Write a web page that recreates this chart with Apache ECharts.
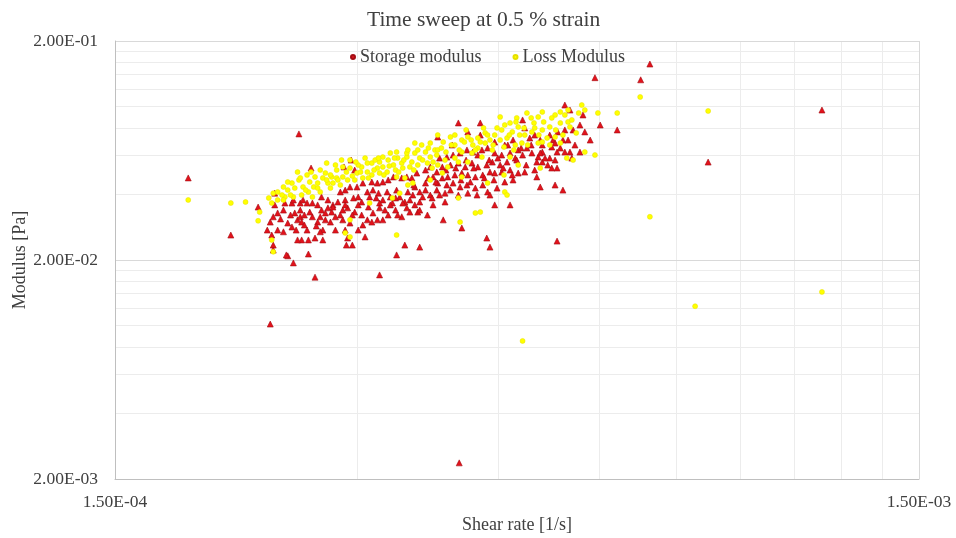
<!DOCTYPE html>
<html>
<head>
<meta charset="utf-8">
<script src="https://cdn.jsdelivr.net/npm/echarts@6/dist/echarts.min.js"></script>
<style>
  html, body { margin: 0; padding: 0; background: #ffffff; }
  #chart { width: 956px; height: 538px; }
</style>
</head>
<body>
<div id="chart"></div>
<script>
// Time sweep: storage and loss modulus against shear rate (log-log)
const chartTitle = 'Time sweep at 0.5 % strain';
const seriesNames = ['Storage modulus', 'Loss Modulus'];
const xAxisName = 'Shear rate [1/s]';
const yAxisName = 'Modulus [Pa]';

const xRange = [1.5e-4, 1.5e-3];
const yRange = [2e-3, 2e-1];
const xTickValues = [1.5e-4, 1.5e-3];
const xTickLabels = ['1.50E-04', '1.50E-03'];
const yTickValues = [2e-3, 2e-2, 2e-1];
const yTickLabels = ['2.00E-03', '2.00E-02', '2.00E-01'];
// minor gridlines: 2..9 times the first value of each decade
const minorSteps = [2, 3, 4, 5, 6, 7, 8, 9];

// [shear rate, storage modulus]
const storagePoints = [
  [2.09e-4,2.60e-2],[2.26e-4,3.49e-2],[2.37e-4,4.04e-2],[2.44e-4,3.64e-2],[2.39e-4,3.28e-2],
  [2.36e-4,3.15e-2],[2.41e-4,3.08e-2],[2.34e-4,2.98e-2],[2.32e-4,2.74e-2],[2.39e-4,2.74e-2],
  [2.43e-4,2.69e-2],[2.46e-4,2.95e-2],[2.49e-4,2.83e-2],[2.53e-4,3.05e-2],[2.55e-4,3.15e-2],
  [2.51e-4,3.28e-2],[2.56e-4,2.98e-2],[2.58e-4,2.89e-2],[2.60e-4,2.74e-2],[2.55e-4,3.64e-2],
  [2.57e-4,3.76e-2],[2.60e-4,3.64e-2],[2.63e-4,5.26e-2],[2.64e-4,3.64e-2],[2.68e-4,3.57e-2],
  [2.71e-4,3.38e-2],[2.74e-4,3.28e-2],[2.70e-4,3.15e-2],[2.74e-4,3.05e-2],[2.76e-4,3.46e-2],
  [2.79e-4,3.31e-2],[2.72e-4,2.74e-2],[2.70e-4,2.69e-2],[2.66e-4,2.52e-2],[2.61e-4,2.47e-2],
  [2.56e-4,2.47e-2],[2.53e-4,2.47e-2],[2.36e-4,2.34e-2],[2.36e-4,2.22e-2],[2.46e-4,2.09e-2],
  [2.50e-4,1.94e-2],[2.61e-4,2.13e-2],[2.66e-4,1.67e-2],[2.64e-4,3.15e-2],[2.68e-4,2.98e-2],
  [2.58e-4,3.21e-2],[2.76e-4,3.76e-2],[2.80e-4,3.57e-2],[2.49e-4,3.64e-2],[2.50e-4,3.76e-2],
  [2.71e-4,3.88e-2],[2.54e-4,7.53e-2],[1.85e-4,4.74e-2],[2.35e-4,2.60e-2],[2.45e-4,2.11e-2],
  [2.34e-4,1.02e-2],
  [2.95e-4,5.72e-2],[2.89e-4,5.32e-2],[2.98e-4,5.15e-2],[2.80e-4,3.49e-2],[2.86e-4,4.09e-2],
  [2.90e-4,4.17e-2],[2.94e-4,4.31e-2],[2.84e-4,3.68e-2],[2.90e-4,3.76e-2],[2.97e-4,3.84e-2],
  [3.01e-4,3.88e-2],[3.04e-4,3.68e-2],[3.09e-4,4.09e-2],[3.11e-4,3.88e-2],[3.14e-4,4.17e-2],
  [3.19e-4,4.04e-2],[3.23e-4,3.76e-2],[3.20e-4,3.64e-2],[3.27e-4,4.09e-2],[3.30e-4,3.88e-2],
  [3.32e-4,3.64e-2],[3.36e-4,4.17e-2],[3.39e-4,3.88e-2],[3.44e-4,3.68e-2],[3.47e-4,4.09e-2],
  [3.54e-4,4.31e-2],[3.59e-4,4.09e-2],[3.65e-4,4.49e-2],[3.68e-4,4.74e-2],[3.73e-4,4.79e-2],
  [3.77e-4,5.04e-2],[3.70e-4,5.32e-2],[3.65e-4,5.15e-2],[3.56e-4,4.99e-2],[3.51e-4,4.74e-2],
  [3.46e-4,4.79e-2],[3.41e-4,4.74e-2],[3.33e-4,4.79e-2],[3.28e-4,4.64e-2],[3.23e-4,4.54e-2],
  [3.18e-4,4.49e-2],[3.13e-4,4.54e-2],[3.05e-4,4.49e-2],[3.00e-4,4.31e-2],[2.82e-4,3.15e-2],
  [2.88e-4,3.38e-2],[2.92e-4,3.46e-2],[2.98e-4,3.31e-2],[3.04e-4,3.21e-2],[2.88e-4,3.05e-2],
  [2.94e-4,2.95e-2],[2.90e-4,2.74e-2],[2.92e-4,2.52e-2],[2.96e-4,2.34e-2],[2.91e-4,2.34e-2],
  [3.01e-4,2.74e-2],[3.07e-4,2.55e-2],[3.09e-4,3.05e-2],[3.14e-4,3.28e-2],[3.20e-4,3.46e-2],
  [3.18e-4,3.05e-2],[3.23e-4,3.05e-2],[3.28e-4,3.21e-2],[3.35e-4,3.38e-2],[3.41e-4,3.15e-2],
  [3.46e-4,3.46e-2],[3.54e-4,3.57e-2],[3.59e-4,3.68e-2],[3.57e-4,3.31e-2],[3.67e-4,3.21e-2],
  [3.73e-4,3.57e-2],[3.70e-4,3.96e-2],[3.77e-4,4.17e-2],[3.44e-4,2.34e-2],[3.59e-4,2.29e-2],
  [3.36e-4,2.11e-2],[3.20e-4,1.71e-2],[3.35e-4,3.84e-2],[3.49e-4,3.76e-2],[3.52e-4,3.96e-2],
  [3.62e-4,3.88e-2],
  [4.01e-4,8.45e-2],[4.12e-4,7.69e-2],[4.27e-4,8.45e-2],[3.78e-4,7.29e-2],[3.94e-4,6.70e-2],
  [4.27e-4,7.44e-2],[4.45e-4,6.91e-2],[4.58e-4,6.70e-2],[4.69e-4,7.06e-2],[4.82e-4,8.72e-2],
  [4.85e-4,8.02e-2],[4.92e-4,7.21e-2],[4.99e-4,7.44e-2],[5.10e-4,6.70e-2],[4.88e-4,6.49e-2],
  [4.76e-4,6.36e-2],[4.65e-4,6.16e-2],[4.54e-4,6.03e-2],[4.45e-4,6.16e-2],[4.36e-4,6.49e-2],
  [4.29e-4,6.36e-2],[4.18e-4,6.22e-2],[4.11e-4,6.36e-2],[4.03e-4,6.16e-2],[3.95e-4,6.03e-2],
  [3.88e-4,5.90e-2],[3.80e-4,5.84e-2],[3.83e-4,5.32e-2],[3.92e-4,5.43e-2],[4.01e-4,5.54e-2],
  [4.09e-4,5.32e-2],[4.17e-4,5.54e-2],[4.24e-4,5.32e-2],[4.35e-4,5.43e-2],[4.42e-4,5.60e-2],
  [4.52e-4,5.43e-2],[4.61e-4,5.60e-2],[4.72e-4,5.84e-2],[4.82e-4,6.03e-2],[4.95e-4,6.16e-2],
  [5.04e-4,5.90e-2],[5.10e-4,5.60e-2],[5.02e-4,5.60e-2],[4.85e-4,5.04e-2],[4.76e-4,4.99e-2],
  [4.65e-4,5.15e-2],[4.54e-4,5.04e-2],[4.45e-4,4.99e-2],[4.39e-4,5.04e-2],[4.30e-4,4.89e-2],
  [4.21e-4,4.79e-2],[4.12e-4,4.89e-2],[4.05e-4,4.99e-2],[3.97e-4,4.89e-2],[3.89e-4,4.79e-2],
  [3.83e-4,4.74e-2],[3.78e-4,4.49e-2],[3.88e-4,4.40e-2],[3.95e-4,4.49e-2],[4.03e-4,4.31e-2],
  [4.11e-4,4.40e-2],[4.21e-4,4.26e-2],[4.30e-4,4.40e-2],[4.36e-4,4.09e-2],[4.48e-4,4.26e-2],
  [4.58e-4,4.54e-2],[4.69e-4,4.64e-2],[3.86e-4,4.04e-2],[4.01e-4,3.96e-2],[4.12e-4,4.04e-2],
  [4.23e-4,3.96e-2],[4.39e-4,3.96e-2],[4.45e-4,3.57e-2],[4.65e-4,3.57e-2],[3.86e-4,3.68e-2],
  [3.84e-4,3.05e-2],[4.05e-4,2.80e-2],[4.35e-4,2.52e-2],[4.39e-4,2.29e-2],[5.02e-4,4.79e-2],
  [5.07e-4,4.31e-2],
  [5.44e-4,1.02e-1],[5.52e-4,9.68e-2],[5.73e-4,9.19e-2],[6.02e-4,8.27e-2],[6.32e-4,7.85e-2],
  [5.76e-4,7.69e-2],[5.57e-4,7.85e-2],[5.44e-4,7.85e-2],[5.33e-4,7.69e-2],[5.26e-4,7.06e-2],
  [5.41e-4,7.06e-2],[5.29e-4,6.84e-2],[5.24e-4,6.56e-2],[5.10e-4,6.22e-2],[5.07e-4,6.16e-2],
  [5.32e-4,6.22e-2],[5.44e-4,6.22e-2],[5.52e-4,6.22e-2],[5.68e-4,6.22e-2],[5.21e-4,5.84e-2],
  [5.18e-4,5.43e-2],[5.24e-4,5.26e-2],[5.32e-4,5.26e-2],[5.29e-4,4.40e-2],[5.41e-4,4.17e-2],
  [5.55e-4,5.84e-2],
  [2.37e-4,3.57e-2],[2.43e-4,3.38e-2],[2.48e-4,3.21e-2],[2.52e-4,2.74e-2],[2.55e-4,3.38e-2],
  [2.62e-4,3.31e-2],[2.67e-4,2.86e-2],[2.72e-4,2.47e-2],[2.78e-4,2.98e-2],[2.82e-4,2.74e-2],
  [2.86e-4,3.21e-2],[2.90e-4,3.57e-2],[2.96e-4,3.21e-2],[3.01e-4,3.57e-2],[3.05e-4,2.89e-2],
  [3.10e-4,3.49e-2],[3.13e-4,2.98e-2],[3.17e-4,3.84e-2],[3.25e-4,3.38e-2],[3.30e-4,3.57e-2],
  [3.37e-4,3.21e-2],[3.42e-4,3.64e-2],[3.49e-4,3.31e-2],[3.53e-4,4.40e-2],[3.59e-4,3.38e-2],
  [3.65e-4,4.17e-2],[3.72e-4,3.84e-2],[3.76e-4,4.54e-2],[3.80e-4,3.96e-2],[3.87e-4,5.15e-2],
  [3.92e-4,4.17e-2],[3.98e-4,5.26e-2],[4.04e-4,4.64e-2],[4.10e-4,5.72e-2],[4.15e-4,4.54e-2],
  [4.19e-4,5.26e-2],[4.24e-4,6.03e-2],[4.32e-4,4.74e-2],[4.38e-4,5.72e-2],[4.44e-4,4.64e-2],
  [4.49e-4,5.84e-2],[4.56e-4,5.26e-2],[4.62e-4,6.70e-2],[4.68e-4,4.89e-2],[4.74e-4,5.72e-2],
  [4.80e-4,6.49e-2],[4.87e-4,5.43e-2],[4.94e-4,6.70e-2],[4.99e-4,5.15e-2],[5.07e-4,7.06e-2],
  [5.14e-4,5.84e-2],[5.21e-4,7.44e-2],[5.29e-4,5.72e-2],[5.37e-4,6.49e-2],[5.49e-4,7.06e-2],
  [5.60e-4,6.70e-2],[5.68e-4,8.27e-2],[5.85e-4,7.06e-2],
  [5.93e-4,1.36e-1],[6.76e-4,1.33e-1],[6.94e-4,1.57e-1],[8.20e-4,5.60e-2],[1.136e-3,9.68e-2],
  [5.32e-4,2.44e-2],[4.02e-4,2.37e-3]
];

// [shear rate, loss modulus]
const lossPoints = [
  [2.09e-4,3.64e-2],[2.18e-4,3.68e-2],[2.27e-4,3.31e-2],[2.26e-4,3.02e-2],[2.35e-4,2.47e-2],
  [2.36e-4,2.18e-2],[2.33e-4,3.84e-2],[2.36e-4,4.04e-2],[2.39e-4,4.09e-2],[2.43e-4,4.31e-2],
  [2.46e-4,4.17e-2],[2.44e-4,3.88e-2],[2.49e-4,4.49e-2],[2.53e-4,5.04e-2],[2.54e-4,4.64e-2],
  [2.57e-4,4.31e-2],[2.60e-4,4.89e-2],[2.62e-4,4.54e-2],[2.65e-4,4.31e-2],[2.66e-4,4.79e-2],
  [2.68e-4,4.49e-2],[2.72e-4,4.74e-2],[2.74e-4,4.99e-2],[2.75e-4,5.54e-2],[2.76e-4,4.49e-2],
  [2.79e-4,4.79e-2],[2.61e-4,4.09e-2],[2.56e-4,3.96e-2],[2.50e-4,3.88e-2],[2.39e-4,3.76e-2],
  [2.35e-4,3.64e-2],[2.64e-4,3.88e-2],[2.70e-4,4.09e-2],[1.85e-4,3.76e-2],
  [2.78e-4,4.89e-2],[2.83e-4,5.15e-2],[2.88e-4,4.79e-2],[2.94e-4,5.26e-2],[3.00e-4,4.99e-2],
  [3.04e-4,5.32e-2],[3.09e-4,5.04e-2],[3.13e-4,5.54e-2],[3.18e-4,5.26e-2],[3.20e-4,5.60e-2],
  [3.23e-4,5.32e-2],[3.28e-4,5.72e-2],[3.33e-4,5.43e-2],[3.37e-4,5.84e-2],[3.41e-4,5.54e-2],
  [3.46e-4,5.90e-2],[3.51e-4,5.60e-2],[3.54e-4,6.16e-2],[3.59e-4,5.84e-2],[3.65e-4,6.22e-2],
  [3.70e-4,5.90e-2],[3.75e-4,6.36e-2],[3.78e-4,7.44e-2],[3.70e-4,6.84e-2],[3.61e-4,6.70e-2],
  [3.54e-4,6.84e-2],[3.46e-4,6.16e-2],[3.36e-4,6.22e-2],[3.30e-4,6.16e-2],[3.23e-4,5.90e-2],
  [3.16e-4,5.72e-2],[3.09e-4,5.54e-2],[3.01e-4,5.43e-2],[2.94e-4,5.72e-2],[2.88e-4,5.32e-2],
  [2.83e-4,4.74e-2],[2.80e-4,4.49e-2],[2.86e-4,4.40e-2],[2.92e-4,4.64e-2],[2.98e-4,4.64e-2],
  [3.05e-4,4.74e-2],[3.13e-4,4.89e-2],[3.20e-4,4.99e-2],[3.27e-4,5.04e-2],[3.35e-4,5.15e-2],
  [3.42e-4,5.26e-2],[3.49e-4,5.32e-2],[3.57e-4,5.43e-2],[3.67e-4,5.54e-2],[3.73e-4,5.60e-2],
  [3.36e-4,4.79e-2],[3.44e-4,4.74e-2],[3.52e-4,4.49e-2],[3.70e-4,4.64e-2],[2.94e-4,3.05e-2],
  [2.90e-4,2.66e-2],[2.94e-4,2.55e-2],[3.36e-4,2.60e-2],[3.32e-4,3.84e-2],[3.39e-4,4.04e-2],
  [3.47e-4,4.40e-2],[3.11e-4,3.64e-2],
  [3.78e-4,6.36e-2],[3.84e-4,6.91e-2],[3.92e-4,7.29e-2],[3.97e-4,6.70e-2],[4.05e-4,7.06e-2],
  [4.12e-4,7.29e-2],[4.18e-4,6.70e-2],[4.24e-4,7.21e-2],[4.33e-4,7.61e-2],[4.39e-4,7.06e-2],
  [4.45e-4,7.44e-2],[4.54e-4,7.85e-2],[4.61e-4,7.21e-2],[4.68e-4,7.69e-2],[4.76e-4,8.10e-2],
  [4.52e-4,9.00e-2],[4.65e-4,8.45e-2],[4.74e-4,8.91e-2],[4.88e-4,9.38e-2],[4.98e-4,8.45e-2],
  [5.04e-4,9.00e-2],[5.10e-4,9.48e-2],[4.95e-4,7.69e-2],[4.85e-4,7.44e-2],[4.33e-4,6.84e-2],
  [4.24e-4,6.49e-2],[4.17e-4,6.16e-2],[4.05e-4,6.22e-2],[3.97e-4,5.84e-2],[3.86e-4,5.72e-2],
  [3.78e-4,5.43e-2],[3.89e-4,5.32e-2],[4.01e-4,5.60e-2],[4.12e-4,5.60e-2],[4.29e-4,5.90e-2],
  [4.42e-4,6.36e-2],[4.57e-4,6.56e-2],[4.72e-4,6.70e-2],[4.81e-4,6.84e-2],[5.04e-4,6.84e-2],
  [4.65e-4,5.90e-2],[4.76e-4,5.43e-2],[4.57e-4,4.89e-2],[4.36e-4,4.49e-2],[4.58e-4,4.09e-2],
  [4.61e-4,3.96e-2],[4.21e-4,3.28e-2],[4.27e-4,3.31e-2],[4.03e-4,2.98e-2],[4.01e-4,3.84e-2],
  [3.83e-4,4.99e-2],[4.05e-4,4.79e-2],
  [5.29e-4,9.19e-2],[5.44e-4,9.19e-2],[5.71e-4,1.02e-1],[5.76e-4,9.68e-2],[5.98e-4,9.38e-2],
  [6.32e-4,9.38e-2],[5.49e-4,8.54e-2],[5.37e-4,8.45e-2],[5.21e-4,8.10e-2],[5.10e-4,7.85e-2],
  [5.52e-4,8.10e-2],[5.29e-4,7.29e-2],[5.10e-4,6.91e-2],[5.21e-4,6.70e-2],[5.37e-4,6.84e-2],
  [5.76e-4,6.22e-2],[5.93e-4,6.03e-2],[5.07e-4,5.26e-2],[5.47e-4,5.84e-2],[5.57e-4,5.72e-2],
  [2.42e-4,3.96e-2],[2.46e-4,4.54e-2],[2.51e-4,4.26e-2],[2.55e-4,4.74e-2],[2.59e-4,4.17e-2],
  [2.63e-4,5.04e-2],[2.68e-4,4.26e-2],[2.70e-4,5.15e-2],[2.75e-4,4.64e-2],[2.78e-4,4.26e-2],
  [2.82e-4,5.43e-2],[2.84e-4,4.64e-2],[2.87e-4,5.72e-2],[2.91e-4,5.04e-2],[2.96e-4,4.84e-2],
  [2.99e-4,5.60e-2],[3.03e-4,5.04e-2],[3.07e-4,5.84e-2],[3.10e-4,4.74e-2],[3.15e-4,5.15e-2],
  [3.19e-4,5.84e-2],[3.24e-4,4.89e-2],[3.29e-4,5.37e-2],[3.34e-4,5.84e-2],[3.38e-4,5.04e-2],
  [3.43e-4,5.72e-2],[3.47e-4,6.36e-2],[3.53e-4,5.15e-2],[3.57e-4,6.36e-2],[3.62e-4,5.72e-2],
  [3.68e-4,6.49e-2],[3.72e-4,5.26e-2],[3.77e-4,6.03e-2],[3.82e-4,6.49e-2],[3.87e-4,6.22e-2],
  [3.93e-4,6.70e-2],[3.97e-4,7.44e-2],[4.02e-4,6.36e-2],[4.08e-4,6.91e-2],[4.10e-4,7.85e-2],
  [4.16e-4,7.06e-2],[4.21e-4,6.36e-2],[4.27e-4,6.91e-2],[4.31e-4,8.02e-2],[4.36e-4,7.44e-2],
  [4.43e-4,6.70e-2],[4.48e-4,8.02e-2],[4.52e-4,7.06e-2],[4.58e-4,8.27e-2],[4.64e-4,7.44e-2],
  [4.70e-4,6.36e-2],[4.73e-4,8.54e-2],[4.78e-4,7.44e-2],[4.84e-4,8.02e-2],[4.89e-4,6.70e-2],
  [4.94e-4,8.91e-2],[4.99e-4,8.02e-2],[5.05e-4,7.44e-2],[5.12e-4,8.54e-2],[5.17e-4,7.21e-2],
  [5.24e-4,8.91e-2],[5.30e-4,7.85e-2],[5.37e-4,9.48e-2],[5.41e-4,7.44e-2],[5.49e-4,9.68e-2],
  [5.55e-4,8.72e-2],[5.62e-4,7.61e-2],[5.66e-4,9.38e-2],[2.43e-4,3.76e-2],[2.48e-4,3.96e-2],
  [6.75e-4,1.11e-1],[8.20e-4,9.58e-2],[6.94e-4,3.15e-2],[1.136e-3,1.43e-2],[7.90e-4,1.23e-2],
  [4.82e-4,8.54e-3]
];

const fontFamily = '"Liberation Serif", "DejaVu Serif", serif';
const textColor = '#404040';
const majorGridColor = '#d9d9d9';
const minorGridColor = '#ececec';

// Gridline records: [x, y, orientation (0 horizontal, 1 vertical), major flag, label index]
function gridRecords(orient, majors) {
  const rows = [];
  majors.forEach(function (v, i) {
    const at = function (val) { return orient === 0 ? [xRange[0], val] : [val, yRange[0]]; };
    rows.push(at(v).concat([orient, 1, i]));
    if (i < majors.length - 1) {
      minorSteps.forEach(function (k) { rows.push(at(v * k).concat([orient, 0, -1])); });
    }
  });
  return rows;
}
const gridData = gridRecords(1, xTickValues).concat(gridRecords(0, yTickValues));

function crisp(v) { return Math.round(v - 0.5) + 0.5; }

function renderGrid(params, api) {
  const orient = api.value(2);
  const major = api.value(3) === 1;
  const idx = api.value(4);
  let p1, p2;
  if (orient === 0) {
    const v = api.value(1);
    p1 = api.coord([xRange[0], v]);
    p2 = api.coord([xRange[1], v]);
  } else {
    const v = api.value(0);
    p1 = api.coord([v, yRange[0]]);
    p2 = api.coord([v, yRange[1]]);
  }
  const children = [{
    type: 'line',
    shape: orient === 0
      ? { x1: p1[0], y1: crisp(p1[1]), x2: p2[0], y2: crisp(p2[1]) }
      : { x1: crisp(p1[0]), y1: p1[1], x2: crisp(p2[0]), y2: p2[1] },
    style: { stroke: major ? majorGridColor : minorGridColor, lineWidth: 1 }
  }];
  if (major) {
    children.push({
      type: 'text',
      x: orient === 0 ? p1[0] - 17 : p1[0],
      y: orient === 0 ? p1[1] : p1[1] + 23,
      style: {
        text: orient === 0 ? yTickLabels[idx] : xTickLabels[idx],
        fill: textColor,
        fontFamily: fontFamily,
        fontSize: 17.5,
        align: orient === 0 ? 'right' : 'center',
        verticalAlign: 'middle'
      }
    });
  }
  return { type: 'group', children: children };
}

const chart = echarts.init(document.getElementById('chart'), null, { renderer: 'canvas' });

chart.setOption({
  animation: false,
  backgroundColor: '#ffffff',
  title: {
    text: chartTitle,
    left: 362,
    top: 4,
    textStyle: { fontFamily: fontFamily, fontSize: 21.5, fontWeight: 'normal', color: textColor }
  },
  legend: {
    data: seriesNames,
    left: 345,
    top: 43,
    itemGap: 31,
    icon: 'circle',
    itemWidth: 4,
    itemHeight: 4,
    textStyle: { fontFamily: fontFamily, fontSize: 18, color: textColor }
  },
  grid: { left: 115, right: 37, top: 41, bottom: 59, containLabel: false, outerBoundsMode: 'none' },
  xAxis: {
    type: 'log',
    logBase: 10,
    min: xRange[0],
    max: xRange[1],
    name: xAxisName,
    nameLocation: 'middle',
    nameGap: 37,
    nameTextStyle: { fontFamily: fontFamily, fontSize: 18, color: textColor },
    axisLine: { show: true, lineStyle: { color: '#bfbfbf' } },
    axisTick: { show: false },
    axisLabel: { show: false },
    splitLine: { show: false }
  },
  yAxis: {
    type: 'log',
    logBase: 10,
    min: yRange[0],
    max: yRange[1],
    name: yAxisName,
    nameLocation: 'middle',
    nameGap: 86,
    nameRotate: 90,
    nameTextStyle: { fontFamily: fontFamily, fontSize: 18, color: textColor },
    axisLine: { show: true, lineStyle: { color: '#bfbfbf' } },
    axisTick: { show: false },
    axisLabel: { show: false },
    splitLine: { show: false }
  },
  series: [
    {
      // gridlines and tick labels, placed through the axes' own log scales
      type: 'custom',
      data: gridData,
      renderItem: renderGrid,
      silent: true,
      clip: false,
      z: 0,
      encode: { x: 0, y: 1 }
    },
    {
      name: seriesNames[0],
      type: 'scatter',
      data: storagePoints,
      symbol: 'triangle',
      symbolSize: 6,
      z: 3,
      itemStyle: { color: '#e3121b', borderColor: '#a30d14', borderWidth: 0.6, opacity: 1 }
    },
    {
      name: seriesNames[1],
      type: 'scatter',
      data: lossPoints,
      symbol: 'circle',
      symbolSize: 5,
      z: 4,
      itemStyle: { color: '#ffff00', borderColor: '#e6e000', borderWidth: 0.5, opacity: 1 }
    }
  ]
});
</script>
</body>
</html>
